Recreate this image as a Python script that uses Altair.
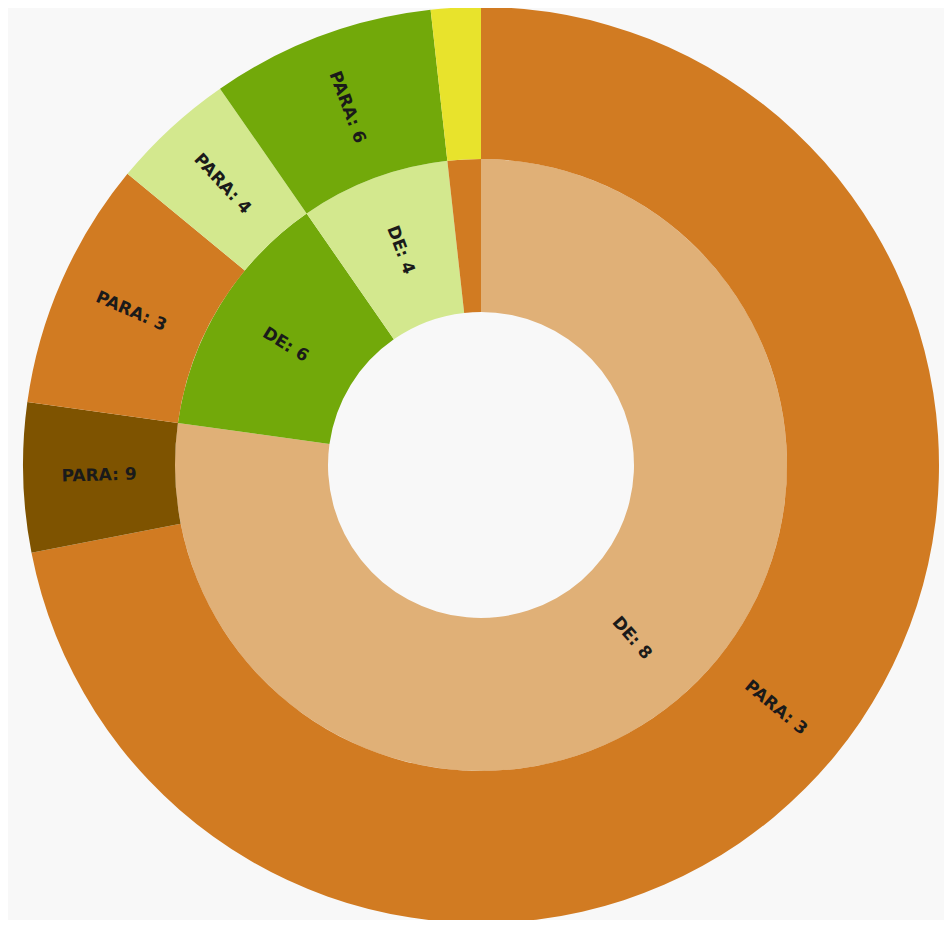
import altair as alt
import pandas as pd

# Inner ring (DE) and outer ring (PARA) – values read from angular extents
inner_labels = ["DE: 8", "DE: 6", "DE: 4", "DE: 3"]
inner_keys = ["8", "6", "4", "3"]
inner_values = [88, 15, 9, 2]

outer_labels = ["PARA: 3", "PARA: 9", "PARA: 3", "PARA: 4", "PARA: 6", "PARA: 7"]
outer_keys = ["3", "9", "3", "4", "6", "7"]
outer_values = [82, 6, 10, 5, 9, 2]

color_keys = ["3", "4", "6", "7", "8", "9"]
color_vals = ["#D17B22", "#D3E88E", "#72A90A", "#E8E32C", "#E0B077", "#7E5300"]

TOTAL = sum(inner_values)

inner = pd.DataFrame({"label": inner_labels, "key": inner_keys,
                      "value": inner_values, "idx": range(len(inner_values))})
outer = pd.DataFrame({"label": outer_labels, "key": outer_keys,
                      "value": outer_values, "idx": range(len(outer_values))})

CX, CY = 473, 457
R0, R1, R2 = 153, 306, 458

theta_scale = alt.Scale(domain=[0, TOTAL])
color_scale = alt.Scale(domain=color_keys, range=color_vals)


def ring(df, r_in, r_out):
    base = (
        alt.Chart(df)
        .transform_window(cum="sum(value)", sort=[alt.SortField("idx")])
        .transform_calculate(
            start="datum.cum - datum.value",
            mid="datum.cum - datum.value / 2",
        )
        .transform_calculate(deg=f"datum.mid / {TOTAL} * 360")
        .transform_calculate(
            rot="((datum.deg < 180 ? datum.deg - 90 : datum.deg - 270) + 360) % 360"
        )
    )
    arcs = base.mark_arc(stroke=None).encode(
        theta=alt.Theta("start:Q", scale=theta_scale),
        theta2="cum:Q",
        radius=alt.value(r_out),
        radius2=alt.value(r_in),
        color=alt.Color("key:N", scale=color_scale, legend=None),
        x=alt.value(CX),
        y=alt.value(CY),
    )
    texts = base.transform_filter("datum.value > 2").mark_text(
        font="DejaVu Sans", fontSize=17, fontWeight="bold", color="#1a1a1a",
        align="center", baseline="middle",
    ).encode(
        theta=alt.Theta("mid:Q", scale=theta_scale),
        radius=alt.value((r_in + r_out) / 2),
        angle=alt.Angle("rot:Q", scale=None),
        text="label:N",
        x=alt.value(CX),
        y=alt.value(CY),
    )
    return arcs, texts


ia, it = ring(inner, R0, R1)
oa, ot = ring(outer, R1, R2)

chart = (
    alt.layer(ia, oa, it, ot)
    .properties(width=936, height=912, background="#f8f8f8", padding=0,
                autosize=alt.AutoSizeParams(type="none"))
    .configure_view(stroke=None)
)

chart.save("out.html", embed_options={"renderer": "svg", "actions": False})
